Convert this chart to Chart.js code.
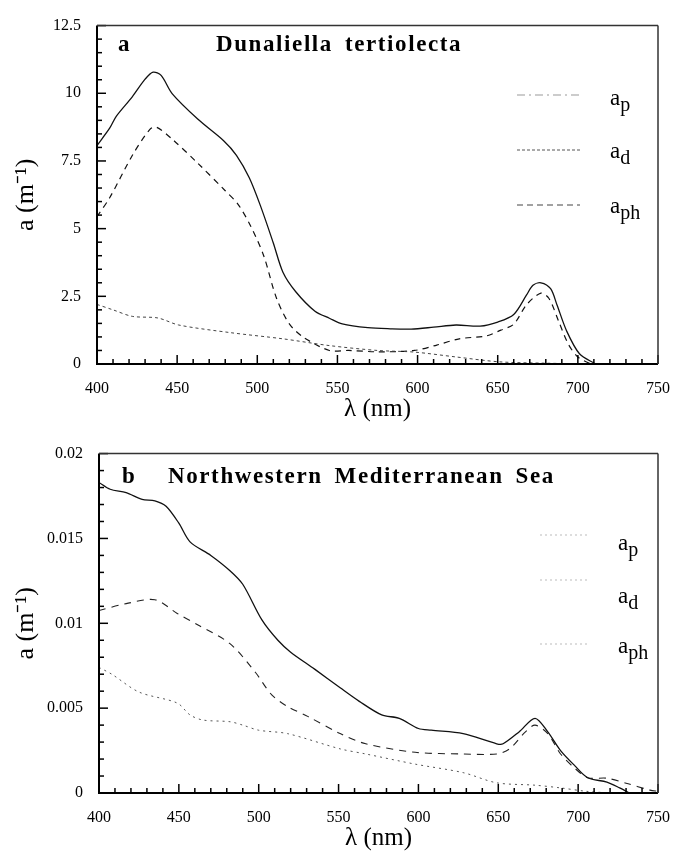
<!DOCTYPE html>
<html>
<head>
<meta charset="utf-8">
<title>Absorption spectra</title>
<script src="https://cdn.jsdelivr.net/npm/chart.js@4.4.1/dist/chart.umd.min.js"></script>
<style>
  body { margin: 0; background: #fff; }
  #wrap { position: relative; width: 685px; height: 857px; }
  canvas { position: absolute; left: 0; }
  #chartA { top: 0; }
  #chartB { top: 428px; }
</style>
</head>
<body>
<div id="wrap">
  <canvas id="chartA" width="685" height="428"></canvas>
  <canvas id="chartB" width="685" height="429"></canvas>
</div>
<script>
// panel a - Dunaliella tertiolecta
const wlApA = [400, 408, 412, 422, 430, 435, 440, 447, 463, 479, 487, 495, 502, 510, 516, 524, 536, 545, 553, 569, 583, 596, 610, 624, 639, 650, 660, 668, 672, 677, 683, 687, 693, 701, 711];
const apA = [8.07, 8.72, 9.15, 9.87, 10.52, 10.78, 10.66, 9.98, 9.04, 8.25, 7.71, 6.88, 5.84, 4.47, 3.39, 2.67, 1.95, 1.69, 1.48, 1.34, 1.30, 1.29, 1.36, 1.44, 1.40, 1.55, 1.83, 2.55, 2.91, 3.0, 2.78, 2.18, 1.22, 0.38, 0];
const wlAdA = [400, 410, 422, 438, 451, 483, 516, 545, 575, 598, 624, 651, 680, 710];
const adA = [2.2, 2.0, 1.76, 1.7, 1.44, 1.16, 0.93, 0.68, 0.5, 0.44, 0.26, 0.08, 0.03, 0];
const wlAphA = [400, 408, 422, 433, 437, 447, 463, 480, 488, 496, 504, 512, 520, 529, 545, 557, 575, 598, 612, 626, 643, 652, 660, 668, 677, 682, 688, 694, 700, 708];
const aphA = [5.44, 6.15, 7.7, 8.67, 8.75, 8.3, 7.41, 6.4, 5.9, 5.08, 4.0, 2.43, 1.48, 0.98, 0.5, 0.5, 0.45, 0.5, 0.7, 0.93, 1.04, 1.25, 1.47, 2.19, 2.62, 2.42, 1.58, 0.74, 0.26, 0];

// panel b - Northwestern Mediterranean Sea
const wlApB = [400, 407, 417, 427, 435, 442, 450, 457, 470, 482, 490, 502, 512, 520, 535, 551, 563, 577, 588, 600, 608, 628, 649, 653, 663, 673, 681, 689, 698, 706, 718, 726, 732];
const apB = [0.0183, 0.0179, 0.0177, 0.0173, 0.01722, 0.0169, 0.0159, 0.0148, 0.0140, 0.0131, 0.0123, 0.0102, 0.0090, 0.0083, 0.0073, 0.0062, 0.0054, 0.0046, 0.0044, 0.0038, 0.0037, 0.0035, 0.0029, 0.0029, 0.0036, 0.0044, 0.0036, 0.0025, 0.0016, 0.0009, 0.00064, 0.0003, 0];
const wlAdB = [400, 408, 425, 449, 457, 465, 482, 490, 500, 518, 551, 567, 598, 628, 649, 673, 689, 705, 720];
const adB = [0.0074, 0.0070, 0.00595, 0.0053, 0.0046, 0.0043, 0.0042, 0.0040, 0.0037, 0.0035, 0.0026, 0.0023, 0.0017, 0.0012, 0.0006, 0.00046, 0.0003, 0.0001, 0];
const wlAphB = [400, 417, 435, 449, 462, 482, 498, 508, 518, 531, 551, 567, 598, 628, 649, 657, 667, 673, 681, 689, 698, 706, 718, 730, 745, 750];
const aphB = [0.01075, 0.01116, 0.01139, 0.01058, 0.0099, 0.0088, 0.0071, 0.0058, 0.0051, 0.0045, 0.0035, 0.0029, 0.0024, 0.0023, 0.0023, 0.0026, 0.0036, 0.0040, 0.0035, 0.0023, 0.00145, 0.0009, 0.00087, 0.00058, 0.00017, 0.0001];

const xTicksMajor = 50;
const serif = '"Liberation Serif", "Times New Roman", serif';

function pontos(wl, vals) {
  return wl.map((w, i) => ({ x: w, y: vals[i] }));
}

function ehMaior(v, passo) {
  const r = v / passo;
  return Math.abs(r - Math.round(r)) < 1e-6;
}

function linha(ctx, x1, y1, x2, y2) {
  ctx.beginPath();
  ctx.moveTo(x1, y1);
  ctx.lineTo(x2, y2);
  ctx.stroke();
}

const decoPlugin = {
  id: 'deco',
  afterDraw(chart, args, opts) {
    const ctx = chart.ctx;
    const area = chart.chartArea;
    const xs = chart.scales.x;
    const ys = chart.scales.y;
    ctx.save();
    ctx.strokeStyle = '#000';
    ctx.lineWidth = 1.5;
    ctx.setLineDash([]);

    // inward tick marks
    xs.ticks.forEach(t => {
      const px = xs.getPixelForValue(t.value);
      const len = ehMaior(t.value, xTicksMajor) ? 9 : 5;
      linha(ctx, px, area.bottom, px, area.bottom - len);
    });
    ys.ticks.forEach(t => {
      const py = ys.getPixelForValue(t.value);
      const len = ehMaior(t.value, opts.yMajor) ? 9 : 5;
      linha(ctx, area.left, py, area.left + len, py);
    });

    // frame
    ctx.lineWidth = 2;
    linha(ctx, area.left, area.top, area.left, area.bottom);
    linha(ctx, area.left - 1, area.bottom, area.right, area.bottom);
    ctx.lineWidth = 1.5;
    ctx.strokeStyle = '#333';
    linha(ctx, area.left, area.top, area.right, area.top);
    linha(ctx, area.right, area.top, area.right, area.bottom);

    // panel letter and title
    ctx.fillStyle = '#000';
    ctx.font = 'bold 23px ' + serif;
    ctx.textBaseline = 'alphabetic';
    ctx.letterSpacing = '1.6px';
    ctx.fillText(opts.letra, opts.letraX, opts.tituloY);
    let x = opts.tituloX;
    opts.titulo.forEach(palavra => {
      ctx.fillText(palavra, x, opts.tituloY);
      x += ctx.measureText(palavra).width + 12;
    });
    ctx.letterSpacing = '0px';

    // legend
    chart.data.datasets.forEach((ds, i) => {
      const it = opts.legenda[i];
      ctx.strokeStyle = it.cor;
      ctx.lineWidth = 1;
      ctx.setLineDash(it.traco);
      linha(ctx, opts.legX1, it.y, opts.legX2, it.y);
      ctx.setLineDash([]);
      ctx.fillStyle = '#000';
      ctx.font = '23px ' + serif;
      ctx.fillText('a', opts.textoX, it.base);
      const w = ctx.measureText('a').width;
      ctx.font = '20px ' + serif;
      ctx.fillText(ds.label, opts.textoX + w, it.base + 6);
    });
    ctx.restore();
  }
};

function eixos(yMax, yStep, yMajor, yWidth) {
  return {
    x: {
      type: 'linear', min: 400, max: 750,
      border: { display: false },
      grid: { display: false, drawTicks: false },
      ticks: {
        stepSize: 10, autoSkip: false, maxRotation: 0, padding: 15, color: '#000',
        font: { family: serif, size: 16 },
        callback: v => ehMaior(v, xTicksMajor) ? String(v) : ''
      },
      title: {
        display: true, text: 'λ (nm)', color: '#000',
        font: { family: serif, size: 25 }, padding: { top: 0, bottom: 4 }
      },
      afterFit: function (scale) { scale.height = 64; }
    },
    y: {
      type: 'linear', min: 0, max: yMax,
      border: { display: false },
      grid: { display: false, drawTicks: false },
      ticks: {
        stepSize: yStep, autoSkip: false, padding: 16, color: '#000',
        font: { family: serif, size: 16 },
        callback: v => ehMaior(v, yMajor) ? String(Number(v.toFixed(4))) : ''
      },
      title: {
        display: true, text: 'a (m⁻¹)', color: '#000',
        font: { family: serif, size: 26 }, padding: { top: 11, bottom: 0 }
      },
      afterFit: function (scale) { scale.width = yWidth; }
    }
  };
}

function criarGrafico(id, dados, escalas, padding, deco) {
  const ctx = document.getElementById(id).getContext('2d');
  return new Chart(ctx, {
    type: 'line',
    data: { datasets: dados },
    options: {
      responsive: false,
      animation: false,
      events: [],
      layout: { padding: padding },
      scales: escalas,
      plugins: {
        legend: { display: false },
        tooltip: { enabled: false },
        deco: deco
      }
    },
    plugins: [decoPlugin]
  });
}

function serie(label, wl, vals, cor, largura, traco) {
  return {
    label: label,
    data: pontos(wl, vals),
    borderColor: cor,
    borderWidth: largura,
    borderDash: traco,
    pointRadius: 0,
    fill: false,
    tension: 0.3
  };
}

criarGrafico('chartA', [
  serie('p', wlApA, apA, '#111', 1.3, []),
  serie('d', wlAdA, adA, '#444', 1, [3, 3]),
  serie('ph', wlAphA, aphA, '#111', 1.2, [6, 5])
], eixos(12.5, 0.5, 2.5, 97), { left: 0, right: 15, top: 17, bottom: 0 }, {
  yMajor: 2.5,
  letra: 'a', letraX: 118, titulo: ['Dunaliella', 'tertiolecta'], tituloX: 216, tituloY: 51,
  legX1: 517, legX2: 580, textoX: 610,
  legenda: [
    { y: 95, base: 105, cor: '#999', traco: [8, 4, 2, 4] },
    { y: 150, base: 158, cor: '#555', traco: [3, 2] },
    { y: 205, base: 213, cor: '#444', traco: [6, 4] }
  ]
});

criarGrafico('chartB', [
  serie('p', wlApB, apB, '#111', 1.3, []),
  serie('d', wlAdB, adB, '#555', 1, [2, 4]),
  serie('ph', wlAphB, aphB, '#222', 1.1, [7, 6])
], eixos(0.02, 0.001, 0.005, 99), { left: 0, right: 13, top: 19, bottom: 0 }, {
  yMajor: 0.005,
  letra: 'b', letraX: 122, titulo: ['Northwestern', 'Mediterranean', 'Sea'], tituloX: 168, tituloY: 55,
  legX1: 540, legX2: 588, textoX: 618,
  legenda: [
    { y: 107, base: 122, cor: '#bbb', traco: [2, 3] },
    { y: 152, base: 175, cor: '#bbb', traco: [2, 3] },
    { y: 216, base: 225, cor: '#bbb', traco: [2, 3] }
  ]
});
</script>
</body>
</html>
